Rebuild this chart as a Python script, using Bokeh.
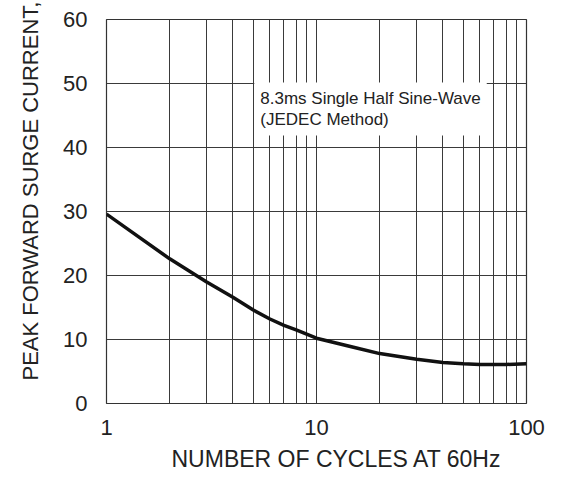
from bokeh.plotting import figure
from bokeh.models import FixedTicker, NumeralTickFormatter, Label, Title
from bokeh.embed import file_html
from bokeh.resources import INLINE

# ---- data ----
cycles = [1, 2, 3, 4, 5, 6, 7, 8, 10, 15, 20, 30, 40, 50, 60, 70, 80, 100]
current = [29.6, 22.6, 19.0, 16.6, 14.6, 13.2, 12.2, 11.5, 10.2, 8.8, 7.8, 6.9, 6.4, 6.2, 6.1, 6.1, 6.1, 6.2]

x_major = [1, 10, 100]
x_minor = [2, 3, 4, 5, 6, 7, 8, 9, 20, 30, 40, 50, 60, 70, 80, 90]
y_ticks = [0, 10, 20, 30, 40, 50, 60]

x_title = "NUMBER OF CYCLES AT 60Hz"
y_title = "PEAK FORWARD SURGE CURRENT,"
note = "8.3ms Single Half Sine-Wave\n(JEDEC Method)"

FONT = "Liberation Sans"
GRID = "#3a3a3a"
TXT = "#222222"

p = figure(width=557, height=478, x_axis_type="log",
           x_range=(1, 100), y_range=(0, 60),
           output_backend="svg", toolbar_location=None,
           min_border_left=106, min_border_right=31,
           min_border_top=19, min_border_bottom=75)
p.background_fill_color = "white"
p.border_fill_color = "white"
p.outline_line_color = "#333333"
p.outline_line_width = 1.2

p.xaxis.ticker = FixedTicker(ticks=x_major, minor_ticks=x_minor)
p.xaxis.formatter = NumeralTickFormatter(format="0")
p.yaxis.ticker = FixedTicker(ticks=y_ticks)

for ax in (p.xaxis[0], p.yaxis[0]):
    ax.axis_line_color = None
    ax.major_tick_line_color = None
    ax.minor_tick_line_color = None
    ax.major_tick_out = 0
    ax.major_tick_in = 0
    ax.minor_tick_out = 0
    ax.minor_tick_in = 0
    ax.major_label_text_font = FONT
    ax.major_label_text_font_size = "22px"
    ax.major_label_text_color = TXT

p.xaxis.major_label_standoff = 16
p.yaxis.major_label_standoff = 19

p.xgrid.ticker = FixedTicker(ticks=x_major, minor_ticks=x_minor)
p.xgrid.grid_line_color = GRID
p.xgrid.grid_line_width = 1
p.xgrid.minor_grid_line_color = GRID
p.xgrid.minor_grid_line_width = 1
p.ygrid.grid_line_color = GRID
p.ygrid.grid_line_width = 1

p.line(cycles, current, line_color="#111111", line_width=3.5)

note_label = Label(x=5, y=50.15, x_offset=1, text=note,
                   text_font=FONT, text_font_size="17px",
                   text_color=TXT, text_align="left",
                   text_baseline="top", text_line_height=1.15,
                   background_fill_color="white", padding=6)
p.add_layout(note_label)

y_label = Title(text=y_title, align="left", offset=23, standoff=31,
                vertical_align="top",
                text_font=FONT, text_font_size="22px",
                text_font_style="normal", text_color=TXT)
p.add_layout(y_label, "left")

x_label = Title(text=x_title, align="left", offset=65, standoff=13,
                text_font=FONT, text_font_size="23px",
                text_font_style="normal", text_color=TXT)
p.add_layout(x_label, "below")

open("out.html", "w").write(file_html(p, INLINE))
